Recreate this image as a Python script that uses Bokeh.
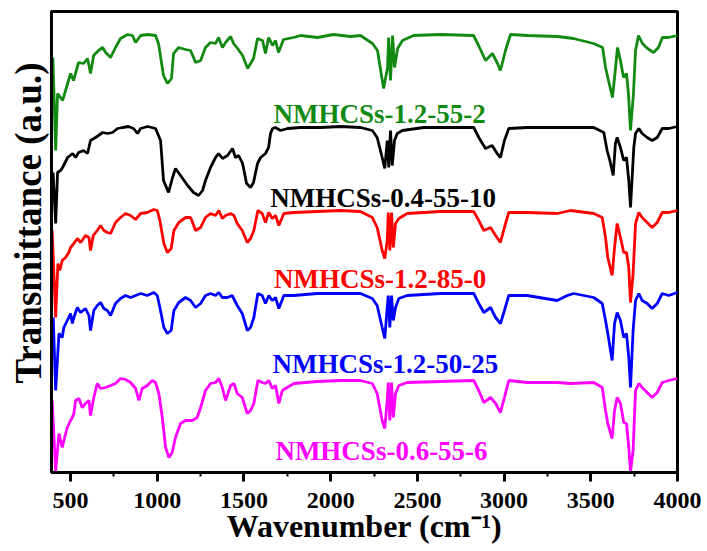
from bokeh.plotting import figure
from bokeh.models import Range1d, FixedTicker, Title, ColumnDataSource
from bokeh.core.properties import value
from bokeh.embed import file_html
from bokeh.resources import INLINE

FONT = "'Liberation Serif', 'Times New Roman', serif"

# FTIR spectra: wavenumber (cm-1) and stacked transmittance (a.u.)
wn_a = [398, 414, 425, 454, 483, 500, 517, 546, 575, 598, 615, 633, 661, 685, 702, 731, 759, 788, 829, 857,
        875, 904, 944, 990, 1007, 1036, 1059, 1082, 1094, 1123, 1163, 1192, 1221, 1250, 1278, 1307, 1336, 1353,
        1376, 1394, 1423, 1440, 1463, 1492, 1521, 1538, 1555, 1578, 1607, 1624, 1642, 1665, 1682, 1699, 1728,
        1786, 1826, 1924, 2016, 2114, 2172, 2241, 2270, 2305, 2328, 2334, 2345, 2357, 2368, 2386, 2414, 2478,
        2633, 2824, 2853, 2893, 2933, 2962, 2979, 3008, 3037, 3135, 3308, 3400, 3516, 3568, 3585, 3602, 3625,
        3637, 3654, 3671, 3689, 3706, 3717, 3729, 3746, 3758, 3775, 3798, 3827, 3862, 3890, 3913, 3948, 4000]
t_a = [415, 322, 379, 372, 389, 399, 392, 410, 409, 414, 399, 417, 422, 425, 420, 415, 425, 434, 438, 437,
       430, 437, 438, 437, 429, 397, 389, 394, 419, 425, 423, 422, 410, 412, 425, 430, 429, 435,
       425, 430, 436, 429, 424, 417, 404, 409, 414, 434, 432, 419, 435, 427, 432, 420, 433,
       435, 437, 435, 438, 436, 437, 429, 422, 384, 405, 435, 392, 437, 405, 424, 432, 437,
       438, 437, 427, 412, 419, 409, 402, 422, 438, 437, 436, 434, 429, 425, 405, 392, 375,
       395, 425, 412, 395, 399, 379, 342, 379, 422, 437, 429, 424, 420, 425, 435, 435, 437]

wn_b = [399, 414, 425, 442, 454, 483, 512, 529, 546, 575, 598, 615, 644, 661, 685, 713, 742, 771, 800, 834,
        863, 886, 904, 944, 990, 1019, 1036, 1065, 1088, 1105, 1134, 1175, 1209, 1238, 1261, 1278, 1307, 1336,
        1353, 1376, 1405, 1434, 1451, 1469, 1492, 1515, 1538, 1555, 1578, 1596, 1624, 1642, 1653, 1665, 1682,
        1711, 1751, 1826, 1942,
        2057, 2172, 2240, 2268, 2297, 2312, 2326, 2335, 2345, 2355, 2368, 2384, 2413, 2537, 2825, 2854, 2893,
        2931, 2960, 2979, 3002, 3027, 3133, 3306, 3402, 3517, 3575, 3594, 3610, 3629, 3642, 3652, 3671, 3690,
        3706, 3719, 3729, 3748, 3758, 3777, 3796, 3825, 3854, 3883, 3912, 3950, 3998]
t_b = [300, 249, 300, 302, 305, 315, 319, 315, 320, 322, 319, 332, 335, 337, 340, 339, 340, 344, 345, 346,
       344, 339, 344, 346, 344, 332, 292, 280, 295, 304, 297, 287, 280, 277, 282, 292, 305, 315,
       319, 314, 317, 324, 315, 317, 309, 289, 285, 290, 309, 315, 319, 325, 339, 344, 345,
       342, 344, 345, 345,
       346, 345, 342, 335, 315, 304, 332, 305, 342, 307, 332, 339, 342, 345, 345, 335, 324,
       327, 319, 315, 332, 344, 345, 345, 345, 345, 340, 322, 312, 297, 329, 335, 325, 312,
       315, 292, 265, 325, 339, 344, 339, 335, 332, 335, 344, 344, 346]

wn_c = [394, 414, 427, 438, 452, 471, 490, 500, 519, 539, 558, 586, 606, 615, 631, 654, 673, 692, 712, 731,
        759, 788, 817, 846, 875, 904, 942, 980, 1000, 1015, 1038, 1058, 1080, 1096, 1124, 1163, 1192, 1221,
        1250, 1278, 1307, 1336, 1355, 1375, 1394, 1423, 1442, 1461, 1490, 1519, 1538, 1557, 1580, 1605, 1624,
        1643, 1663, 1682, 1701, 1730, 1788, 1922,
        2057, 2172, 2240, 2268, 2297, 2312, 2326, 2332, 2341, 2351, 2361, 2374, 2393, 2441, 2633, 2825, 2854,
        2883, 2922, 2951, 2979, 3002, 3027, 3133, 3306, 3383, 3517, 3566, 3585, 3598, 3623, 3637, 3652, 3671,
        3690, 3706, 3719, 3729, 3744, 3758, 3777, 3796, 3825, 3854, 3883, 3912, 3950, 3998]
t_c = [242, 155, 209, 202, 212, 215, 220, 225, 229, 234, 230, 237, 235, 222, 237, 242, 247, 242, 240, 239,
       250, 255, 259, 257, 253, 259, 260, 263, 262, 252, 229, 220, 224, 242, 250, 255, 255, 242,
       245, 255, 259, 257, 262, 254, 257, 259, 257, 249, 242, 230, 234, 242, 262, 259, 250,
       260, 254, 257, 247, 259, 260, 261,
       262, 261, 255, 245, 222, 214, 232, 260, 222, 260, 225, 249, 254, 259, 261, 261, 252,
       242, 245, 237, 230, 245, 260, 260, 259, 262, 259, 255, 235, 215, 197, 225, 249, 235,
       220, 220, 205, 170, 199, 249, 260, 255, 250, 245, 250, 260, 260, 262]

wn_d = [400, 414, 433, 452, 461, 481, 500, 510, 519, 539, 558, 586, 606, 615, 634, 654, 673, 692, 712, 731,
        759, 788, 817, 846, 875, 904, 942, 980, 1000, 1015, 1038, 1058, 1080, 1096, 1124, 1163, 1192, 1221,
        1250, 1278, 1307, 1336, 1355, 1375, 1404, 1432, 1461, 1490, 1519, 1538, 1557, 1580, 1605, 1624, 1643,
        1663, 1682, 1701, 1730, 1788, 1922,
        2057, 2172, 2240, 2268, 2297, 2312, 2326, 2332, 2341, 2351, 2361, 2374, 2393, 2441, 2633, 2825, 2854,
        2883, 2922, 2951, 2979, 3002, 3027, 3133, 3306, 3364, 3402, 3517, 3566, 3585, 3598, 3623, 3637, 3652,
        3671, 3690, 3706, 3719, 3729, 3744, 3758, 3777, 3796, 3825, 3854, 3883, 3912, 3950, 3998]
t_d = [155, 82, 139, 135, 145, 152, 159, 149, 155, 165, 160, 164, 157, 142, 162, 167, 170, 164, 162, 157,
       169, 174, 177, 175, 177, 179, 177, 180, 177, 165, 145, 139, 142, 162, 170, 175, 172, 165,
       169, 177, 179, 177, 180, 175, 175, 177, 167, 159, 142, 145, 155, 179, 177, 169, 177,
       172, 175, 164, 177, 177, 179,
       179, 179, 174, 167, 145, 134, 165, 177, 145, 177, 152, 165, 174, 177, 179, 179, 169,
       160, 165, 155, 149, 162, 177, 177, 172, 177, 179, 175, 169, 152, 139, 112, 149, 160,
       152, 135, 139, 115, 85, 142, 172, 179, 172, 169, 164, 169, 179, 177, 180]

wn_e = [394, 414, 433, 452, 461, 481, 500, 510, 519, 529, 548, 567, 586, 606, 615, 634, 654, 673, 702, 731,
        759, 788, 817, 846, 875, 894, 913, 942, 971, 990, 1009, 1029, 1048, 1067, 1086, 1105, 1134, 1163,
        1201, 1230, 1250, 1278, 1307, 1336, 1355, 1375, 1394, 1423, 1442, 1461, 1490, 1519, 1538, 1557,
        1580, 1605, 1624, 1643, 1663, 1682, 1701, 1721, 1749, 1788, 1922,
        2057, 2172, 2240, 2268, 2297, 2312, 2326, 2332, 2341, 2351, 2361, 2374, 2393, 2441, 2633, 2825, 2854,
        2883, 2922, 2951, 2979, 3002, 3027, 3133, 3306, 3383, 3517, 3566, 3585, 3598, 3623, 3637, 3652, 3671,
        3690, 3706, 3719, 3729, 3744, 3758, 3777, 3796, 3825, 3854, 3883, 3912, 3950, 3998]
t_e = [72, 1, 39, 25, 32, 45, 52, 55, 59, 72, 74, 65, 69, 72, 57, 75, 89, 84, 85, 87,
       89, 94, 93, 90, 84, 72, 84, 87, 92, 90, 79, 55, 25, 15, 20, 35, 49, 52,
       52, 55, 65, 82, 89, 90, 94, 85, 72, 87, 89, 79, 75, 59, 62, 69,
       92, 90, 89, 92, 84, 87, 69, 82, 85, 89, 91,
       92, 92, 89, 79, 52, 44, 72, 90, 52, 90, 55, 79, 87, 90, 91, 92, 82,
       70, 75, 69, 60, 75, 92, 90, 90, 89, 90, 85, 62, 49, 34, 62, 75, 69,
       50, 49, 25, 1, 22, 82, 89, 85, 80, 75, 80, 90, 92, 94]

samples = ["NMHCSs-1.2-55-2", "NMHCSs-0.4-55-10", "NMHCSs-1.2-85-0", "NMHCSs-1.2-50-25", "NMHCSs-0.6-55-6"]
colors = ["#128a12", "#000000", "#ff0000", "#0000ff", "#ff00ff"]
spectra = [(wn_a, t_a), (wn_b, t_b), (wn_c, t_c), (wn_d, t_d), (wn_e, t_e)]

# where each sample name is written (wavenumber, a.u.)
label_x = [2282, 2302, 2285, 2316, 2293]
label_y = [359, 275, 194, 109, 22]

major_ticks = [500, 1000, 1500, 2000, 2500, 3000, 3500, 4000]
minor_ticks = [750, 1250, 1750, 2250, 2750, 3250, 3750]

x_title = "Wavenumber (cm\u207b\u00b9)"
y_title = "Transmittance (a.u.)"

p = figure(width=707, height=551, output_backend="svg", toolbar_location=None,
           x_range=Range1d(390, 4000), y_range=Range1d(0, 461),
           min_border_left=51, min_border_right=30, min_border_top=11, min_border_bottom=79)
p.background_fill_color = "white"
p.border_fill_color = "white"
p.grid.visible = False
p.outline_line_color = "black"
p.outline_line_width = 3

for (wn, t), c in zip(spectra, colors):
    p.line(wn, t, line_color=c, line_width=2.8)

src = ColumnDataSource(dict(x=label_x, y=label_y, text=samples, color=colors))
p.text(x="x", y="y", text="text", text_color="color", source=src,
       text_font=value(FONT), text_font_style="bold", text_font_size="27px",
       text_align="center", text_baseline="alphabetic")

xa = p.xaxis[0]
xa.ticker = FixedTicker(ticks=major_ticks, minor_ticks=minor_ticks)
xa.axis_line_width = 3
xa.major_tick_line_width = 3
xa.minor_tick_line_width = 2
xa.major_tick_in = 0
xa.major_tick_out = 9
xa.minor_tick_in = 0
xa.minor_tick_out = 4
xa.major_label_standoff = 11
xa.major_label_text_font = FONT
xa.major_label_text_font_style = "bold"
xa.major_label_text_font_size = "24px"
xa.major_label_text_color = "black"

ya = p.yaxis[0]
ya.ticker = FixedTicker(ticks=[])
ya.axis_line_width = 3
ya.major_tick_in = 0
ya.major_tick_out = 0
ya.minor_tick_in = 0
ya.minor_tick_out = 0
ya.major_label_text_font_size = "0px"

# axis titles as side titles: horizontal one hugs the bottom edge,
# vertical one sits a little above the frame's middle
p.add_layout(Title(text=x_title, align="center", vertical_align="bottom", standoff=-10,
                   text_font=FONT, text_font_size="32px", text_font_style="bold",
                   text_color="black"), "below")
p.add_layout(Title(text=y_title, align="left", offset=89,
                   text_font=FONT, text_font_size="37px", text_font_style="bold",
                   text_color="black", standoff=6), "left")

open("out.html", "w").write(file_html(p, INLINE))
